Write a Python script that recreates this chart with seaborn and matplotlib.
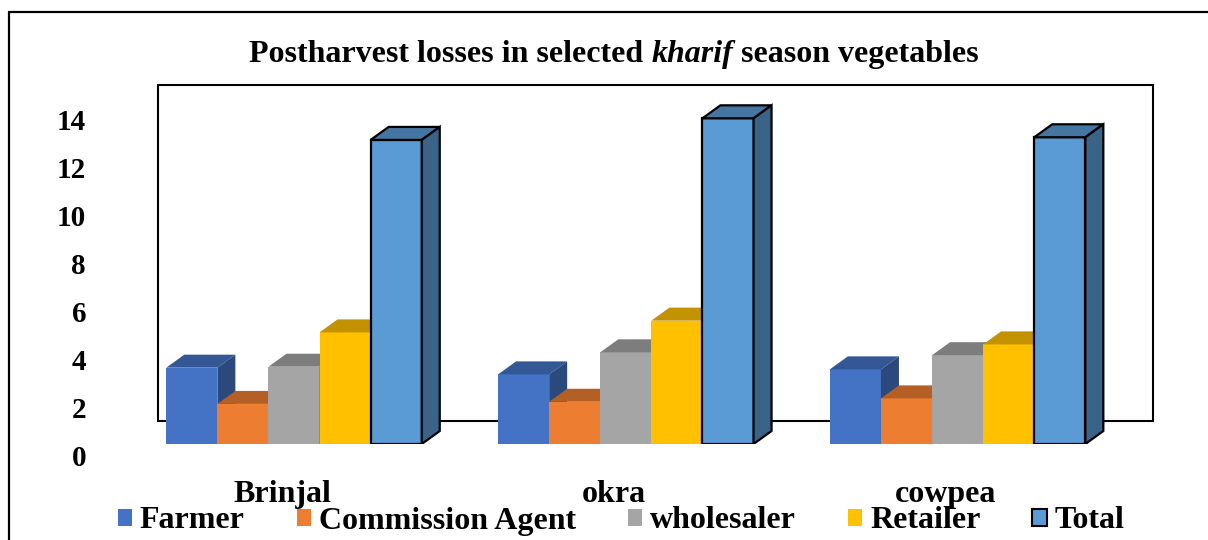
import numpy as np
import pandas as pd
import matplotlib
matplotlib.use("Agg")
import matplotlib.pyplot as plt
import matplotlib.colors as mcolors
import seaborn as sns
from matplotlib.patches import Polygon, Rectangle, Patch
from matplotlib.lines import Line2D
from matplotlib.transforms import ScaledTranslation

# values
vegetables = ["Brinjal", "okra", "cowpea"]
stakeholders = ["Farmer", "Commission Agent", "wholesaler", "Retailer", "Total"]
farmer = [3.18, 2.90, 3.11]
commission_agent = [1.67, 1.76, 1.90]
wholesaler = [3.22, 3.82, 3.70]
retailer = [4.65, 5.14, 4.15]
total = [12.67, 13.57, 12.78]
colors = ["#4472C4", "#ED7D31", "#A5A5A5", "#FFC000", "#5B9BD5"]
y_ticks = [0, 2, 4, 6, 8, 10, 12, 14]

df = pd.DataFrame({
    "vegetable": vegetables * 5,
    "stakeholder": np.repeat(stakeholders, len(vegetables)),
    "loss": farmer + commission_agent + wholesaler + retailer + total,
})

sns.set_theme(style="white")
plt.rcParams["font.family"] = ["Liberation Serif", "DejaVu Serif"]
plt.rcParams["font.weight"] = "bold"
plt.rcParams["text.color"] = "black"
plt.rcParams["xtick.color"] = "black"
plt.rcParams["ytick.color"] = "black"

W, H = 1208, 540
fig = plt.figure(figsize=(W / 100, H / 100), dpi=100)


def fx(px):
    return px / W


def fy(py):
    return 1 - py / H


def shade(c, f):
    r, g, b = mcolors.to_rgb(c)
    return (r * f, g * f, b * f)


# layout in pixels
ax_left, ax_right, ax_top, ax_base = 100, 1170, 80, 444
cat_px, cat0_px, unit_y = 331.8, 294, 24.0

ax = fig.add_axes([fx(ax_left), fy(ax_base), (ax_right - ax_left) / W, (ax_base - ax_top) / H])
ax.patch.set_alpha(0)

sns.barplot(data=df, x="vegetable", y="loss", hue="stakeholder",
            order=vegetables, hue_order=stakeholders, palette=colors,
            width=0.77, saturation=1, linewidth=0, errorbar=None,
            legend=False, ax=ax)

# fake 3D: top and side faces from each bar
dx = 18 / cat_px
dy = 13 / unit_y
for i, cont in enumerate(ax.containers):
    base = colors[i]
    is_total = stakeholders[i] == "Total"
    ec = "black" if is_total else "none"
    lw = 1.6 if is_total else 0
    for bar in cont:
        x0, w, h = bar.get_x(), bar.get_width(), bar.get_height()
        bar.set_zorder(3 + i)
        bar.set_edgecolor(ec)
        bar.set_linewidth(lw)
        top = Polygon([(x0, h), (x0 + w, h), (x0 + w + dx, h + dy), (x0 + dx, h + dy)],
                      closed=True, fc=shade(base, 0.76), ec=ec, lw=lw, zorder=3 + i)
        side = Polygon([(x0 + w, 0), (x0 + w + dx, dy), (x0 + w + dx, h + dy), (x0 + w, h)],
                       closed=True, fc=shade(base, 0.64), ec=ec, lw=lw, zorder=3 + i)
        ax.add_patch(top)
        ax.add_patch(side)

ax.set_xlim((ax_left - cat0_px) / cat_px, (ax_right - cat0_px) / cat_px)
ax.set_ylim(0, (ax_base - ax_top) / unit_y)
ax.set_yticks(y_ticks)
ax.set_yticklabels([str(t) for t in y_ticks])
ax.set_xlabel("")
ax.set_ylabel("")
ax.tick_params(axis="y", labelsize=21, length=0, pad=10)
ax.tick_params(axis="x", labelsize=23, length=0, pad=26)
sns.despine(ax=ax, left=True, bottom=True)

for lab in ax.get_yticklabels():
    lab.set_transform(lab.get_transform() + ScaledTranslation(0, -11 / 100, fig.dpi_scale_trans))
for lab in ax.get_xticklabels():
    lab.set_transform(lab.get_transform() + ScaledTranslation(-12 / 100, 0, fig.dpi_scale_trans))

# back wall of the plot area
fig.add_artist(Rectangle((fx(158), fy(421)), (1153 - 158) / W, (421 - 85) / H,
                         transform=fig.transFigure, fc="white", ec="black", lw=1.5, zorder=-1))

# outer frame (top and left only visible)
fig.add_artist(Line2D([fx(9), fx(9)], [fy(12), 0], color="black", lw=1.6))
fig.add_artist(Line2D([fx(9), 1], [fy(12), fy(12)], color="black", lw=1.6))

# legend
handles = [Patch(fc=c, ec="black" if s == "Total" else "none", lw=1.5)
           for s, c in zip(stakeholders, colors)]
fig.legend(handles, stakeholders, loc="center", bbox_to_anchor=(fx(621), fy(521)),
           ncol=5, frameon=False, fontsize=23, handlelength=0.45, handleheight=0.45,
           handletextpad=0.25, columnspacing=1.62, borderpad=0, borderaxespad=0)

# title with italic "kharif"
title_parts = [("Postharvest losses in selected", "normal"), ("kharif", "italic"),
               ("season vegetables", "normal")]
fig.canvas.draw()
renderer = fig.canvas.get_renderer()
texts = [fig.text(0, fy(62), s, fontsize=23, fontweight="bold", fontstyle=st,
                  va="baseline", ha="left") for s, st in title_parts]
t_a = fig.text(0, 0, "xx", fontsize=23, fontweight="bold")
t_b = fig.text(0, 0, "x x", fontsize=23, fontweight="bold")
space = t_b.get_window_extent(renderer).width - t_a.get_window_extent(renderer).width
t_a.remove()
t_b.remove()
widths = [t.get_window_extent(renderer).width for t in texts]
x = 614 - (sum(widths) + space * (len(texts) - 1)) / 2
for t, wd in zip(texts, widths):
    t.set_x(fx(x))
    x += wd + space

fig.savefig("out.png", dpi=100)
